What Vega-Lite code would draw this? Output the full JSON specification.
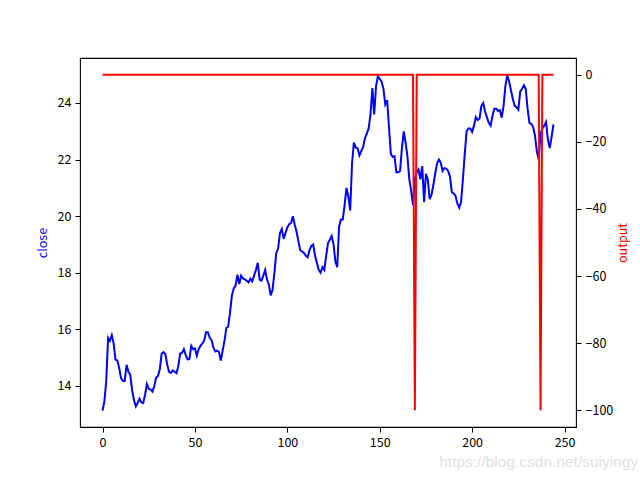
{
  "$schema": "https://vega.github.io/schema/vega-lite/v6.json",
  "width": 496,
  "height": 369,
  "autosize": {"type": "none"},
  "padding": {"left": 80, "top": 58, "right": 64, "bottom": 53},
  "background": "white",
  "config": {
    "view": {"stroke": "black", "strokeWidth": 1.1},
    "axis": {
      "grid": false,
      "domain": false,
      "tickColor": "black",
      "tickSize": 5,
      "tickWidth": 1,
      "labelColor": "black",
      "labelFont": "Noto Sans CJK SC",
      "labelFontSize": 12.5,
      "labelPadding": 4,
      "titleFont": "Noto Sans CJK SC",
      "titleFontSize": 12.5,
      "titleFontWeight": "normal"
    }
  },
  "title": {
    "text": "https://blog.csdn.net/suiyingy",
    "orient": "bottom",
    "anchor": "end",
    "font": "Liberation Sans",
    "fontSize": 15.5,
    "fontWeight": "normal",
    "color": "#e0e0e0",
    "dx": 9,
    "offset": 6
  },
  "data": {
    "values": [
      {"i":0,"close":13.13,"output":0},{"i":1,"close":13.46,"output":0},{"i":2,"close":14.17,"output":0},{"i":3,"close":15.7,"output":0},{"i":4,"close":15.6,"output":0},
      {"i":5,"close":15.8,"output":0},{"i":6,"close":15.5,"output":0},{"i":7,"close":14.93,"output":0},{"i":8,"close":14.9,"output":0},{"i":9,"close":14.64,"output":0},
      {"i":10,"close":14.28,"output":0},{"i":11,"close":14.18,"output":0},{"i":12,"close":14.18,"output":0},{"i":13,"close":14.75,"output":0},{"i":14,"close":14.5,"output":0},
      {"i":15,"close":14.4,"output":0},{"i":16,"close":13.85,"output":0},{"i":17,"close":13.5,"output":0},{"i":18,"close":13.28,"output":0},{"i":19,"close":13.4,"output":0},
      {"i":20,"close":13.55,"output":0},{"i":21,"close":13.42,"output":0},{"i":22,"close":13.4,"output":0},{"i":23,"close":13.69,"output":0},{"i":24,"close":14.07,"output":0},
      {"i":25,"close":13.9,"output":0},{"i":26,"close":13.87,"output":0},{"i":27,"close":13.8,"output":0},{"i":28,"close":14.0,"output":0},{"i":29,"close":14.3,"output":0},
      {"i":30,"close":14.35,"output":0},{"i":31,"close":14.6,"output":0},{"i":32,"close":15.15,"output":0},{"i":33,"close":15.2,"output":0},{"i":34,"close":15.12,"output":0},
      {"i":35,"close":14.75,"output":0},{"i":36,"close":14.5,"output":0},{"i":37,"close":14.46,"output":0},{"i":38,"close":14.55,"output":0},{"i":39,"close":14.5,"output":0},
      {"i":40,"close":14.45,"output":0},{"i":41,"close":14.7,"output":0},{"i":42,"close":15.15,"output":0},{"i":43,"close":15.17,"output":0},{"i":44,"close":15.3,"output":0},
      {"i":45,"close":15.1,"output":0},{"i":46,"close":14.94,"output":0},{"i":47,"close":14.95,"output":0},{"i":48,"close":15.42,"output":0},{"i":49,"close":15.3,"output":0},
      {"i":50,"close":15.33,"output":0},{"i":51,"close":15.07,"output":0},{"i":52,"close":15.3,"output":0},{"i":53,"close":15.42,"output":0},{"i":54,"close":15.5,"output":0},
      {"i":55,"close":15.6,"output":0},{"i":56,"close":15.9,"output":0},{"i":57,"close":15.9,"output":0},{"i":58,"close":15.7,"output":0},{"i":59,"close":15.62,"output":0},
      {"i":60,"close":15.35,"output":0},{"i":61,"close":15.22,"output":0},{"i":62,"close":15.25,"output":0},{"i":63,"close":15.2,"output":0},{"i":64,"close":14.9,"output":0},
      {"i":65,"close":15.25,"output":0},{"i":66,"close":15.6,"output":0},{"i":67,"close":16.05,"output":0},{"i":68,"close":16.1,"output":0},{"i":69,"close":16.6,"output":0},
      {"i":70,"close":17.2,"output":0},{"i":71,"close":17.45,"output":0},{"i":72,"close":17.55,"output":0},{"i":73,"close":17.93,"output":0},{"i":74,"close":17.6,"output":0},
      {"i":75,"close":17.9,"output":0},{"i":76,"close":17.8,"output":0},{"i":77,"close":17.77,"output":0},{"i":78,"close":17.72,"output":0},{"i":79,"close":17.66,"output":0},
      {"i":80,"close":17.79,"output":0},{"i":81,"close":17.7,"output":0},{"i":82,"close":17.9,"output":0},{"i":83,"close":18.1,"output":0},{"i":84,"close":18.35,"output":0},
      {"i":85,"close":17.75,"output":0},{"i":86,"close":17.72,"output":0},{"i":87,"close":17.9,"output":0},{"i":88,"close":18.1,"output":0},{"i":89,"close":17.76,"output":0},
      {"i":90,"close":17.58,"output":0},{"i":91,"close":17.2,"output":0},{"i":92,"close":17.4,"output":0},{"i":93,"close":18.0,"output":0},{"i":94,"close":18.7,"output":0},
      {"i":95,"close":18.85,"output":0},{"i":96,"close":19.4,"output":0},{"i":97,"close":19.55,"output":0},{"i":98,"close":19.2,"output":0},{"i":99,"close":19.4,"output":0},
      {"i":100,"close":19.6,"output":0},{"i":101,"close":19.72,"output":0},{"i":102,"close":19.76,"output":0},{"i":103,"close":20.0,"output":0},{"i":104,"close":19.7,"output":0},
      {"i":105,"close":19.45,"output":0},{"i":106,"close":19.1,"output":0},{"i":107,"close":18.8,"output":0},{"i":108,"close":18.75,"output":0},{"i":109,"close":18.7,"output":0},
      {"i":110,"close":18.6,"output":0},{"i":111,"close":18.55,"output":0},{"i":112,"close":18.8,"output":0},{"i":113,"close":18.95,"output":0},{"i":114,"close":19.0,"output":0},
      {"i":115,"close":18.6,"output":0},{"i":116,"close":18.35,"output":0},{"i":117,"close":18.1,"output":0},{"i":118,"close":18.0,"output":0},{"i":119,"close":18.2,"output":0},
      {"i":120,"close":18.1,"output":0},{"i":121,"close":18.6,"output":0},{"i":122,"close":19.05,"output":0},{"i":123,"close":19.17,"output":0},{"i":124,"close":19.3,"output":0},
      {"i":125,"close":19.0,"output":0},{"i":126,"close":18.4,"output":0},{"i":127,"close":18.2,"output":0},{"i":128,"close":19.64,"output":0},{"i":129,"close":19.88,"output":0},
      {"i":130,"close":19.88,"output":0},{"i":131,"close":20.4,"output":0},{"i":132,"close":21.0,"output":0},{"i":133,"close":20.7,"output":0},{"i":134,"close":20.2,"output":0},
      {"i":135,"close":21.85,"output":0},{"i":136,"close":22.6,"output":0},{"i":137,"close":22.43,"output":0},{"i":138,"close":22.4,"output":0},{"i":139,"close":22.15,"output":0},
      {"i":140,"close":22.3,"output":0},{"i":141,"close":22.45,"output":0},{"i":142,"close":22.75,"output":0},{"i":143,"close":22.92,"output":0},{"i":144,"close":23.1,"output":0},
      {"i":145,"close":23.6,"output":0},{"i":146,"close":24.53,"output":0},{"i":147,"close":23.6,"output":0},{"i":148,"close":24.6,"output":0},{"i":149,"close":24.95,"output":0},
      {"i":150,"close":24.85,"output":0},{"i":151,"close":24.75,"output":0},{"i":152,"close":24.5,"output":0},{"i":153,"close":23.95,"output":0},{"i":154,"close":24.1,"output":0},
      {"i":155,"close":23.15,"output":0},{"i":156,"close":22.2,"output":0},{"i":157,"close":22.1,"output":0},{"i":158,"close":22.12,"output":0},{"i":159,"close":21.55,"output":0},
      {"i":160,"close":21.55,"output":0},{"i":161,"close":21.6,"output":0},{"i":162,"close":22.4,"output":0},{"i":163,"close":23.0,"output":0},{"i":164,"close":22.6,"output":0},
      {"i":165,"close":22.1,"output":0},{"i":166,"close":21.3,"output":0},{"i":167,"close":20.9,"output":0},{"i":168,"close":20.4,"output":0},{"i":169,"close":21.3,"output":-100},
      {"i":170,"close":21.55,"output":0},{"i":171,"close":21.65,"output":0},{"i":172,"close":21.3,"output":0},{"i":173,"close":21.77,"output":0},{"i":174,"close":20.5,"output":0},
      {"i":175,"close":21.5,"output":0},{"i":176,"close":21.3,"output":0},{"i":177,"close":20.6,"output":0},{"i":178,"close":20.75,"output":0},{"i":179,"close":21.1,"output":0},
      {"i":180,"close":21.5,"output":0},{"i":181,"close":21.85,"output":0},{"i":182,"close":22.0,"output":0},{"i":183,"close":21.9,"output":0},{"i":184,"close":21.6,"output":0},
      {"i":185,"close":21.7,"output":0},{"i":186,"close":21.68,"output":0},{"i":187,"close":21.6,"output":0},{"i":188,"close":21.4,"output":0},{"i":189,"close":20.85,"output":0},
      {"i":190,"close":20.8,"output":0},{"i":191,"close":20.72,"output":0},{"i":192,"close":20.45,"output":0},{"i":193,"close":20.3,"output":0},{"i":194,"close":20.5,"output":0},
      {"i":195,"close":21.3,"output":0},{"i":196,"close":22.2,"output":0},{"i":197,"close":23.0,"output":0},{"i":198,"close":23.1,"output":0},{"i":199,"close":23.1,"output":0},
      {"i":200,"close":22.98,"output":0},{"i":201,"close":23.2,"output":0},{"i":202,"close":23.5,"output":0},{"i":203,"close":23.4,"output":0},{"i":204,"close":23.45,"output":0},
      {"i":205,"close":23.9,"output":0},{"i":206,"close":24.0,"output":0},{"i":207,"close":23.7,"output":0},{"i":208,"close":23.5,"output":0},{"i":209,"close":23.3,"output":0},
      {"i":210,"close":23.2,"output":0},{"i":211,"close":23.55,"output":0},{"i":212,"close":23.8,"output":0},{"i":213,"close":23.8,"output":0},{"i":214,"close":23.72,"output":0},
      {"i":215,"close":23.75,"output":0},{"i":216,"close":23.48,"output":0},{"i":217,"close":23.9,"output":0},{"i":218,"close":24.6,"output":0},{"i":219,"close":24.98,"output":0},
      {"i":220,"close":24.76,"output":0},{"i":221,"close":24.45,"output":0},{"i":222,"close":24.15,"output":0},{"i":223,"close":23.9,"output":0},{"i":224,"close":23.85,"output":0},
      {"i":225,"close":23.76,"output":0},{"i":226,"close":24.4,"output":0},{"i":227,"close":24.5,"output":0},{"i":228,"close":24.62,"output":0},{"i":229,"close":24.5,"output":0},
      {"i":230,"close":23.8,"output":0},{"i":231,"close":23.3,"output":0},{"i":232,"close":23.26,"output":0},{"i":233,"close":23.15,"output":0},{"i":234,"close":22.85,"output":0},
      {"i":235,"close":22.3,"output":0},{"i":236,"close":22.0,"output":0},{"i":237,"close":22.9,"output":-100},{"i":238,"close":23.1,"output":0},{"i":239,"close":23.2,"output":0},
      {"i":240,"close":23.33,"output":0},{"i":241,"close":22.7,"output":0},{"i":242,"close":22.41,"output":0},{"i":243,"close":22.8,"output":0},{"i":244,"close":23.24,"output":0}
    ]
  },
  "encoding": {
    "x": {
      "field": "i",
      "type": "quantitative",
      "scale": {"domain": [-12.2, 256.2], "nice": false, "zero": false},
      "axis": {"values": [0, 50, 100, 150, 200, 250], "title": null}
    }
  },
  "layer": [
    {
      "mark": {"type": "line", "color": "#0000ff", "strokeWidth": 2},
      "encoding": {
        "y": {
          "field": "close",
          "type": "quantitative",
          "scale": {"domain": [12.55, 25.59], "nice": false, "zero": false},
          "axis": {"values": [14, 16, 18, 20, 22, 24], "title": "close", "titleColor": "#0000ff", "titlePadding": 8}
        }
      }
    },
    {
      "mark": {"type": "line", "color": "#ff0000", "strokeWidth": 2},
      "encoding": {
        "y": {
          "field": "output",
          "type": "quantitative",
          "scale": {"domain": [-105, 5], "nice": false, "zero": false},
          "axis": {"orient": "right", "values": [0, -20, -40, -60, -80, -100], "format": "d", "title": "output", "titleColor": "#ff0000", "titleAngle": -90, "titlePadding": 17}
        }
      }
    }
  ],
  "resolve": {"scale": {"y": "independent"}}
}
